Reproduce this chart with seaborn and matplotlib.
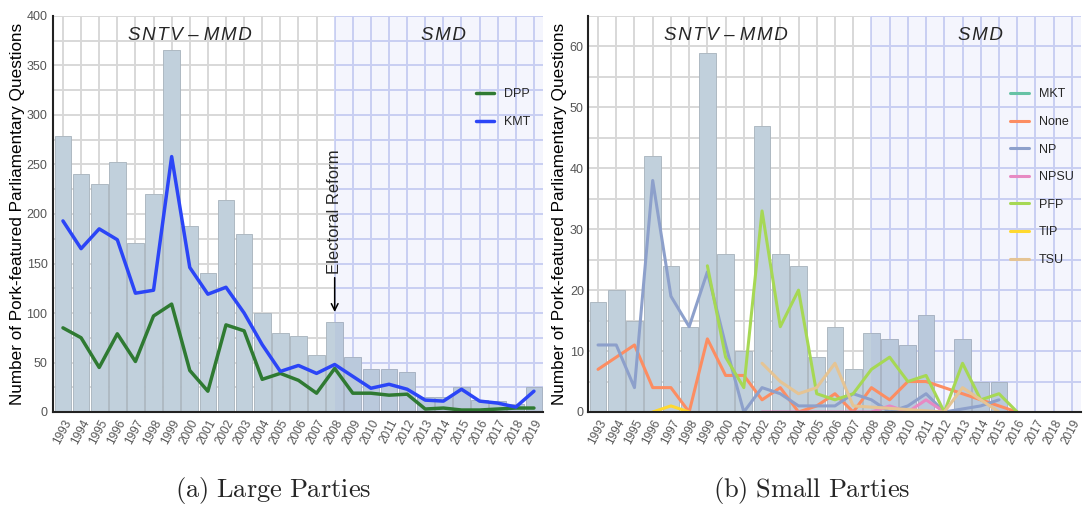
import numpy as np
import pandas as pd
import matplotlib
matplotlib.use("Agg")
import matplotlib.pyplot as plt
import seaborn as sns

# ---------------------------------------------------------------- data
years = list(range(1993, 2020))
reform_year = 2008

# Large parties: yearly totals and per-party counts
large_total = [279, 240, 230, 253, 171, 220, 366, 188, 140, 214, 180, 100, 80, 77,
               58, 91, 56, 43, 43, 40, 15, 15, 25, 12, 11, 8, 25]
dpp = [85, 75, 45, 79, 51, 97, 109, 42, 21, 88, 82, 33, 39, 32,
       19, 44, 19, 19, 17, 18, 3, 4, 2, 2, 3, 4, 4]
kmt = [193, 165, 185, 174, 120, 123, 258, 146, 119, 126, 100, 68, 41, 47,
       39, 48, 36, 24, 28, 23, 12, 11, 23, 11, 9, 5, 21]

# Small parties: yearly totals and per-party counts (years with records only)
small_total = [18, 20, 15, 42, 24, 14, 59, 26, 10, 47, 26, 24, 9, 14,
               7, 13, 12, 11, 16, 0, 12, 5, 5, 0, 0, 0, 0]
mkt_years = [2015, 2016]
mkt = [0, 0]
none_years = list(range(1993, 2012)) + [2016]
none = [7, 9, 11, 4, 4, 0, 12, 6, 6, 2, 4, 0, 1, 3, 0, 4, 2, 5, 5, 0]
np_years = list(range(1993, 2013)) + [2014, 2015]
np_counts = [11, 11, 4, 38, 19, 14, 23, 11, 0, 4, 3, 1, 1, 1, 3, 2, 0, 1, 3, 0, 1, 2]
npsu_years = list(range(2002, 2013))
npsu = [0, 0, 0, 0, 0, 0, 0, 1, 0, 2, 0]
pfp_years = list(range(1999, 2017))
pfp = [24, 9, 4, 33, 14, 20, 3, 2, 3, 7, 9, 5, 6, 0, 8, 2, 3, 0]
tip_years = [1996, 1997, 1998]
tip = [0, 1, 0]
tsu_years = [2002, 2003, 2004, 2005, 2006, 2007, 2012, 2013, 2014, 2015]
tsu = [8, 5, 3, 4, 8, 1, 0, 4, 2, 0]

large_parties = ["DPP", "KMT"]
large_colors = ["#2f7a32", "#2b45f7"]
small_parties = ["MKT", "None", "NP", "NPSU", "PFP", "TIP", "TSU"]

# ---------------------------------------------------------------- frames
large_bars = pd.DataFrame({"year": years, "count": large_total})
small_bars = pd.DataFrame({"year": years, "count": small_total})
large_lines = pd.concat([
    pd.DataFrame({"year": years, "count": dpp, "party": "DPP"}),
    pd.DataFrame({"year": years, "count": kmt, "party": "KMT"}),
], ignore_index=True)
small_lines = pd.concat([
    pd.DataFrame({"year": y, "count": v, "party": p})
    for p, y, v in [
        ("MKT", mkt_years, mkt), ("None", none_years, none),
        ("NP", np_years, np_counts), ("NPSU", npsu_years, npsu),
        ("PFP", pfp_years, pfp), ("TIP", tip_years, tip),
        ("TSU", tsu_years, tsu),
    ]
], ignore_index=True)

# ---------------------------------------------------------------- style
sns.set_style("white")
plt.rcParams["font.family"] = ["Liberation Sans", "DejaVu Sans"]
plt.rcParams["mathtext.fontset"] = "cm"

fig = plt.figure(figsize=(10.85, 5.07), dpi=100)
ax_l = fig.add_axes([53 / 1085, 95 / 507, 490 / 1085, 396 / 507])
ax_r = fig.add_axes([588 / 1085, 95 / 507, 493 / 1085, 396 / 507])

XMIN, XMAX = years[0] - 0.55, years[-1] + 0.5
BAR_COLOR = "#c1d0dc"
GRAY_GRID = "#d8d8d8"
BLUE_GRID = "#d0d6f4"
SPACE = "\u200a"


def spaced(word):
    return SPACE.join(word)


def panel(ax, bars, lines, ymax, major, minor, palette, lw, legend_anchor,
          label_x, tick_pad):
    levels = np.arange(minor, ymax + 0.01, minor)
    pre = [y for y in years if y < reform_year]
    post = [y for y in years if y >= reform_year]
    # grid: grey for the SNTV-MMD period, blue-tinted for the SMD period
    ax.vlines(pre, 0, ymax, color=GRAY_GRID, lw=1.4, zorder=0.3)
    ax.hlines(levels, XMIN, reform_year, color=GRAY_GRID, lw=1.4, zorder=0.3)
    ax.vlines(post, 0, ymax, color=BLUE_GRID, lw=1.4, zorder=0.3)
    ax.hlines(levels, reform_year, XMAX, color=BLUE_GRID, lw=1.4, zorder=0.3)

    sns.barplot(data=bars, x="year", y="count", native_scale=True, width=0.92,
                color=BAR_COLOR, saturation=1, edgecolor="#aeb9c2",
                linewidth=0.7, zorder=1, ax=ax)
    # SMD period tint
    ax.axvspan(reform_year, XMAX, facecolor="#4a5ae0", alpha=0.06, lw=0, zorder=1.6)

    sns.lineplot(data=lines, x="year", y="count", hue="party",
                 hue_order=list(palette.keys()), palette=palette, lw=lw,
                 zorder=3, ax=ax)

    ax.set_xlim(XMIN, XMAX)
    ax.set_ylim(0, ymax)
    ax.set_yticks(np.arange(0, ymax + 0.01, major))
    ax.set_xticks(years)
    ax.set_xticklabels([str(y) for y in years], rotation=62, ha="right",
                       va="top", rotation_mode="anchor", fontsize=8.5,
                       color="#555555")
    ax.tick_params(axis="y", labelsize=9, labelcolor="#555555", length=0,
                   pad=tick_pad)
    ax.tick_params(axis="x", length=0, pad=4)
    ax.set_xlabel("")
    ax.set_ylabel("Number of Pork-featured Parliamentary Questions",
                  fontsize=12.3, color="black")
    ax.yaxis.set_label_coords(label_x, 0.5)
    for side in ("top", "right"):
        ax.spines[side].set_visible(False)
    for side in ("left", "bottom"):
        ax.spines[side].set_color("#222222")
        ax.spines[side].set_linewidth(1.5)
        ax.spines[side].set_zorder(4)

    handles, labels = ax.get_legend_handles_labels()
    ax.legend(handles, labels, loc="upper right", bbox_to_anchor=legend_anchor,
              frameon=False, fontsize=9, handlelength=1.5, handletextpad=0.8,
              labelspacing=1.25, borderaxespad=0)

    # electoral-system headings
    ax.text(years[7], ymax * 0.952,
            spaced("SNTV") + " \u2013 " + spaced("MMD"),
            style="italic", fontsize=13.5, ha="center", va="center", zorder=5)
    ax.text(years[21], ymax * 0.952, spaced("SMD"), style="italic",
            fontsize=13.5, ha="center", va="center", zorder=5)


panel(ax_l, large_bars, large_lines, 400, 50, 25,
      dict(zip(large_parties, large_colors)), 2.5, (0.985, 0.83),
      (25 - 53) / 490, 4)
panel(ax_r, small_bars, small_lines, 65, 10, 5,
      dict(zip(small_parties, sns.color_palette("Set2", len(small_parties)))),
      2.2, (0.995, 0.83), (567 - 588) / 493, 3)

# reform marker
reform_idx = years.index(reform_year)
ax_l.annotate("Electoral Reform",
              xy=(reform_year, large_total[reform_idx] + 10),
              xytext=(reform_year, large_total[reform_idx] + 48),
              rotation=90, ha="center", va="bottom", fontsize=12,
              arrowprops=dict(arrowstyle="->", color="black", lw=1.1,
                              shrinkA=0, shrinkB=0),
              zorder=5)

fig.text(273 / 1085, 17 / 507, r"$\mathrm{(a)\ Large\ Parties}$",
         fontsize=19, ha="center", va="center")
fig.text(812 / 1085, 17 / 507, r"$\mathrm{(b)\ Small\ Parties}$",
         fontsize=19, ha="center", va="center")

fig.savefig("out.png", dpi=100)
